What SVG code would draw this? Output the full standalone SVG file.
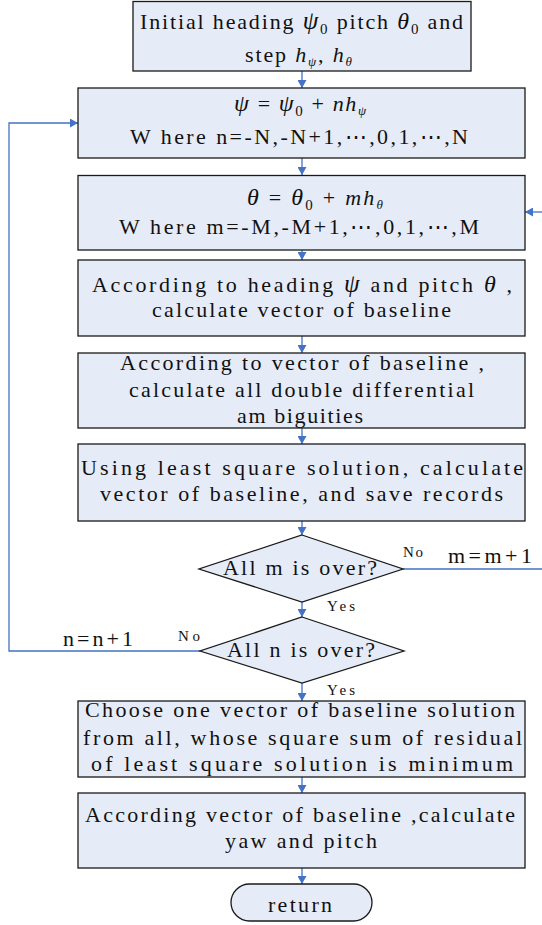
<svg xmlns="http://www.w3.org/2000/svg" width="542" height="925" viewBox="0 0 542 925">
<defs>
<marker id="ah" markerUnits="userSpaceOnUse" markerWidth="9" markerHeight="9" refX="8" refY="4.5" orient="auto">
<path d="M0,0 L8,4.5 L0,9 z" fill="#4472C4"/>
</marker>
<style>
.box{fill:#E6ECF7;stroke:#1a1a1a;stroke-width:1.3}
.t{font-family:"Liberation Serif","Times New Roman",serif;font-size:22px;fill:#111}
.s{font-family:"Liberation Serif","Times New Roman",serif;font-size:15px;fill:#111}
.i{font-style:italic}
.c{fill:none;stroke:#4472C4;stroke-width:1.3;marker-end:url(#ah)}
.cn{fill:none;stroke:#4472C4;stroke-width:1.3}
</style>
</defs>
<rect width="542" height="925" fill="#fff"/>
<g id="connectors">
<path class="c" d="M302,71 V88"/>
<path class="c" d="M302,158 V175"/>
<path class="c" d="M302,250 V260"/>
<path class="c" d="M302,336 V353"/>
<path class="c" d="M302,428 V444"/>
<path class="c" d="M302,521 V535"/>
<path class="c" d="M302,602 V617"/>
<path class="c" d="M302,683 V701"/>
<path class="c" d="M302,777 V793"/>
<path class="c" d="M302,868 V884"/>
<path class="c" d="M200,651 H9 V123 H78"/>
<path class="cn" d="M403,569 H548 V212"/>
<path class="c" d="M548,212 H525"/>
</g>
<g id="n_init">
<rect class="box" x="133" y="1.5" width="338" height="69.5"/>
<text class="t" x="140" y="29" textLength="323" lengthAdjust="spacing">Initial heading <tspan class="i" font-size="25">ψ</tspan><tspan font-size="15" dy="5">0</tspan><tspan dy="-5"> pitch </tspan><tspan class="i" font-size="24">θ</tspan><tspan font-size="15" dy="5">0</tspan><tspan dy="-5"> and</tspan></text>
<text class="t" x="245" y="62" textLength="107" lengthAdjust="spacing">step <tspan class="i">h</tspan><tspan class="i" font-size="13" dy="4">ψ</tspan><tspan dy="-4">,  </tspan><tspan class="i">h</tspan><tspan class="i" font-size="13" dy="4">θ</tspan></text>
</g>
<g id="n_psi">
<rect class="box" x="78" y="88" width="447" height="70"/>
<text class="t" x="234" y="111" textLength="132" lengthAdjust="spacing"><tspan class="i" font-size="24">ψ</tspan> = <tspan class="i" font-size="24">ψ</tspan><tspan font-size="15" dy="5">0</tspan><tspan dy="-5"> + </tspan><tspan class="i">nh</tspan><tspan class="i" font-size="13" dy="4">ψ</tspan></text>
<text class="t" x="130" y="144" textLength="338" lengthAdjust="spacing">W here n=-N,-N+1,⋯,0,1,⋯,N</text>
</g>
<g id="n_theta">
<rect class="box" x="78" y="175.5" width="447" height="74.5"/>
<text class="t" x="247" y="205" textLength="136" lengthAdjust="spacing"><tspan class="i" font-size="24">θ</tspan> = <tspan class="i" font-size="24">θ</tspan><tspan font-size="15" dy="5">0</tspan><tspan dy="-5"> + </tspan><tspan class="i">mh</tspan><tspan class="i" font-size="13" dy="4">θ</tspan></text>
<text class="t" x="119" y="234" textLength="360" lengthAdjust="spacing">W here m=-M,-M+1,⋯,0,1,⋯,M</text>
</g>
<g id="n_vec">
<rect class="box" x="78" y="260" width="447" height="76"/>
<text class="t" x="92" y="292" textLength="420" lengthAdjust="spacing">According to heading <tspan class="i" font-size="25">ψ</tspan> and pitch <tspan class="i" font-size="24">θ</tspan> ,</text>
<text class="t" x="152" y="317" textLength="299" lengthAdjust="spacing">calculate vector of baseline</text>
</g>
<g id="n_amb">
<rect class="box" x="78" y="353" width="447" height="75"/>
<text class="t" x="120" y="370" textLength="364" lengthAdjust="spacing">According to  vector of baseline ,</text>
<text class="t" x="129" y="397" textLength="345" lengthAdjust="spacing">calculate all double differential</text>
<text class="t" x="237" y="423" textLength="126" lengthAdjust="spacing">am biguities</text>
</g>
<g id="n_lsq">
<rect class="box" x="78" y="444" width="447" height="77"/>
<text class="t" x="81" y="475" textLength="442" lengthAdjust="spacing">Using  least  square solution, calculate</text>
<text class="t" x="100" y="501" textLength="403" lengthAdjust="spacing">vector of baseline, and save records</text>
</g>
<g id="d_m">
<polygon class="box" points="302,535 403,569 302,602 199,569"/>
<text class="t" x="223" y="575" textLength="154" lengthAdjust="spacing">All m is over?</text>
</g>
<g id="d_n">
<polygon class="box" points="302,617 404,651 302,683 200,651"/>
<text class="t" x="227" y="657" textLength="148" lengthAdjust="spacing">All n is over?</text>
</g>
<g id="labels">
<text class="s" x="403" y="557" textLength="20" lengthAdjust="spacing">No</text>
<text class="t" x="448" y="563" textLength="84" lengthAdjust="spacing">m=m+1</text>
<text class="s" x="327" y="611" textLength="28" lengthAdjust="spacing">Yes</text>
<text class="s" x="178" y="641" textLength="22" lengthAdjust="spacing">No</text>
<text class="t" x="63" y="646" textLength="70" lengthAdjust="spacing">n=n+1</text>
<text class="s" x="327" y="695" textLength="28" lengthAdjust="spacing">Yes</text>
</g>
<g id="n_choose">
<rect class="box" x="78" y="701" width="447" height="76"/>
<text class="t" x="85" y="717" textLength="430" lengthAdjust="spacing">Choose one vector of baseline solution</text>
<text class="t" x="83" y="745" textLength="439" lengthAdjust="spacing">from all, whose  square sum of residual</text>
<text class="t" x="91" y="771" textLength="422" lengthAdjust="spacing">of least  square solution is minimum</text>
</g>
<g id="n_yaw">
<rect class="box" x="78" y="793" width="447" height="75"/>
<text class="t" x="85" y="822" textLength="430" lengthAdjust="spacing">According vector of baseline ,calculate</text>
<text class="t" x="225" y="848" textLength="152" lengthAdjust="spacing">yaw and pitch</text>
</g>
<g id="n_return">
<rect class="box" x="231" y="884" width="141" height="37" rx="18.5" ry="18.5"/>
<text class="t" x="268" y="912" textLength="64" lengthAdjust="spacing">return</text>
</g>
</svg>
